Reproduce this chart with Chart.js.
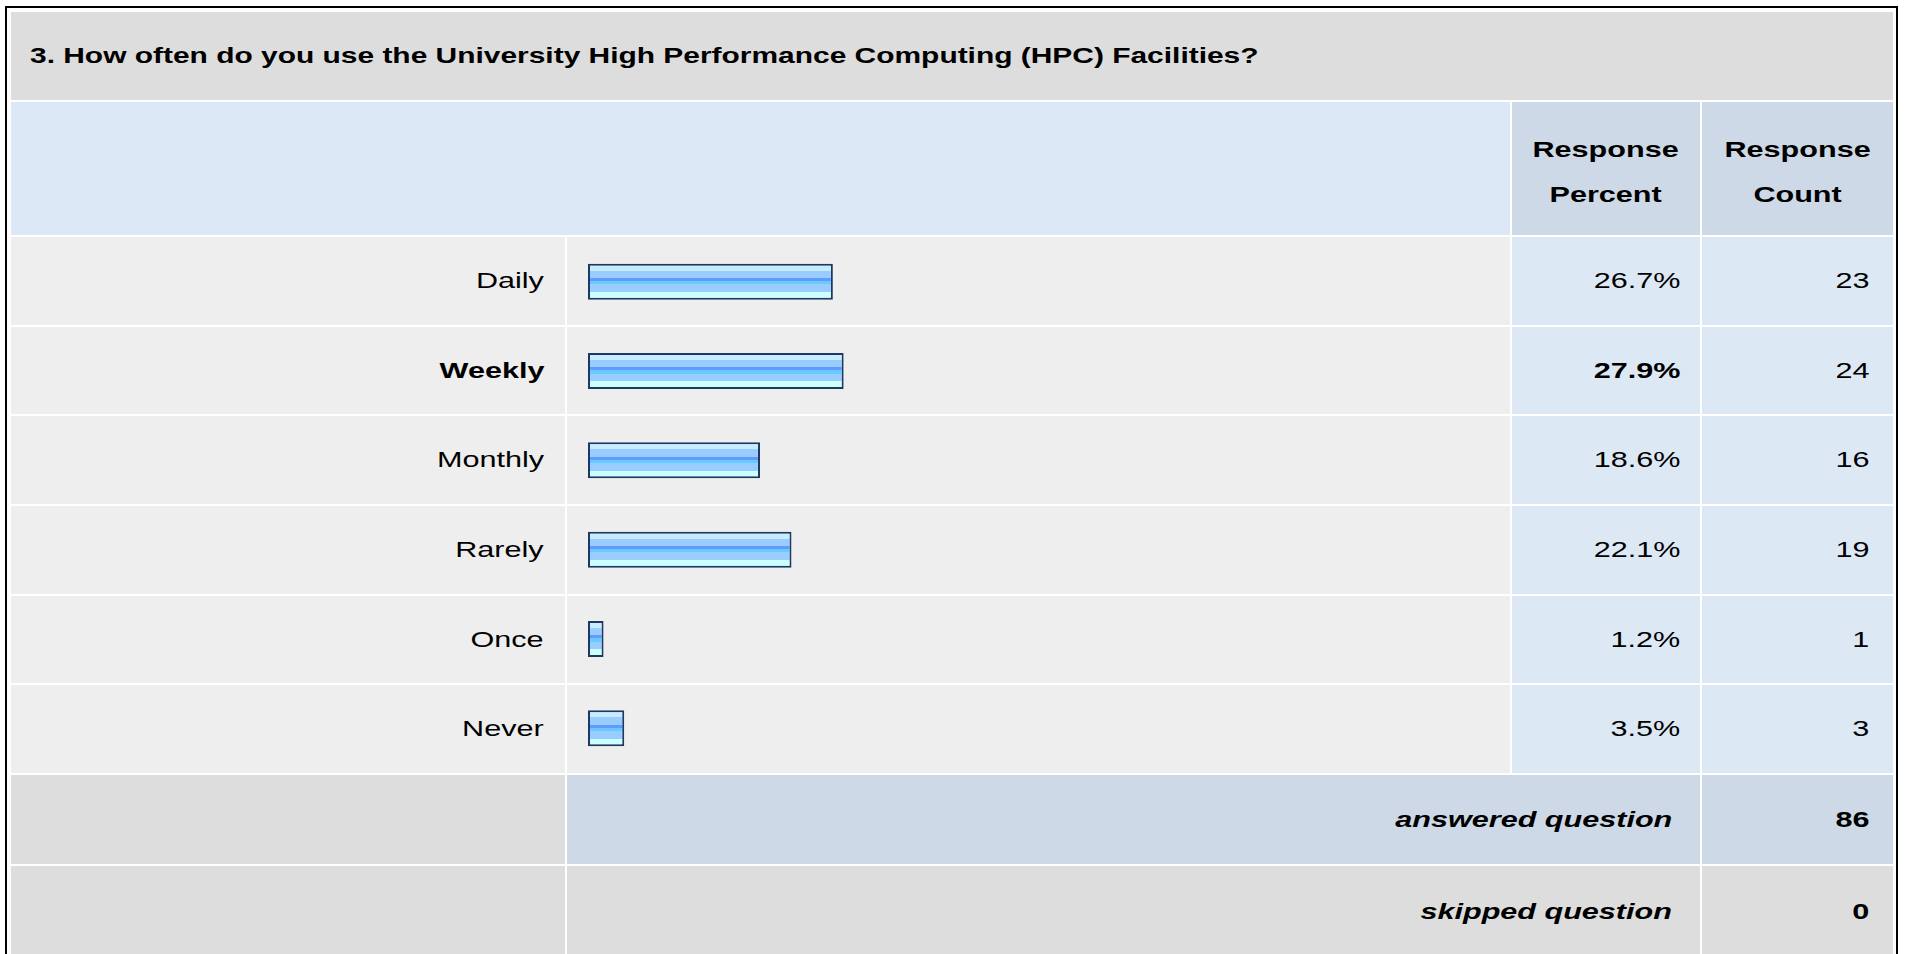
<!DOCTYPE html>
<html>
<head>
<meta charset="utf-8">
<script src="https://cdn.jsdelivr.net/npm/chart.js@4/dist/chart.umd.min.js"></script>
<style>
  html, body { margin: 0; padding: 0; background: #fff; overflow: hidden; }
  body { width: 1907px; height: 954px; position: relative; font-family: "Liberation Sans", Arial, sans-serif; color: #000; }
  #box {
    position: absolute; left: 5px; top: 6px;
    border: 2px solid #000; border-bottom: none;
    padding: 4px 3px 0 4px; background: #fff;
    display: grid;
    grid-template-columns: 554px 943px 188px 191px;
    grid-template-rows: 88px 133px 88px 87px 88px 88px 87px 88px 89px 92px;
    gap: 2px;
  }
  .c { display: flex; align-items: center; font-size: 22px; }
  .r { justify-content: flex-end; }
  .title { grid-column: 1 / 5; background: #dddddd; font-weight: bold; padding-left: 19px; }
  .hblank { grid-column: 1 / 3; background: #dce8f5; }
  .hcol { background: #cdd9e6; font-weight: bold; justify-content: center; text-align: center; line-height: 45px; padding-top: 6px; box-sizing: border-box; }
  .lab { background: #eeeeee; padding-right: 21px; }
  .bar { background: #eeeeee; }
  .pct { background: #dde8f5; padding-right: 20px; }
  .cnt { background: #dde8f5; padding-right: 24px; }
  .gray { background: #dddddd; }
  .sum { background: #cdd9e6; }
  .tot { font-weight: bold; font-style: italic; padding-right: 28px; }
  .totn { font-weight: bold; padding-right: 24px; }
  .b { font-weight: bold; }
  .s { display: inline-block; transform: scaleX(1.39); transform-origin: right center; white-space: nowrap; }
  .title .s { transform: scaleX(1.36); transform-origin: left center; }
  .hcol .s { transform-origin: center center; }
  #chartWrap { position: absolute; left: 567px; top: 237px; width: 943px; height: 536px; }
</style>
</head>
<body>
<div id="box"></div>
<div id="chartWrap"><canvas id="bars" width="943" height="536"></canvas></div>
<script>
const question = '3. How often do you use the University High Performance Computing (HPC) Facilities?';
const categories = ['Daily', 'Weekly', 'Monthly', 'Rarely', 'Once', 'Never'];
const percents = [26.7, 27.9, 18.6, 22.1, 1.2, 3.5];
const counts = [23, 24, 16, 19, 1, 3];
const answeredCount = 86;
const skippedCount = 0;

const box = document.getElementById('box');
function cell(cls, text) {
    let d = document.createElement('div');
    d.className = 'c ' + cls;
    if (text !== undefined) {
        let s = document.createElement('span');
        s.className = 's';
        s.innerHTML = text;
        d.appendChild(s);
    }
    box.appendChild(d);
    return d;
}

cell('title', question);
cell('hblank');
cell('hcol', 'Response<br>Percent');
cell('hcol', 'Response<br>Count');

let maxPct = Math.max(...percents);
for (let i = 0; i < categories.length; i++) {
    let bold = percents[i] === maxPct ? ' b' : '';
    cell('lab r' + bold, categories[i]);
    cell('bar');
    cell('pct r' + bold, percents[i].toFixed(1) + '%');
    cell('cnt r', String(counts[i]));
}

cell('gray');
cell('sum tot r', 'answered question').style.gridColumn = '2 / 4';
cell('sum totn r', String(answeredCount));
cell('gray');
cell('gray tot r', 'skipped question').style.gridColumn = '2 / 4';
cell('gray totn r', String(skippedCount));

// striped fill like the survey bar image
function stripes(ctx) {
    const chart = ctx.chart;
    const y = chart.scales.y;
    if (!y || ctx.dataIndex === undefined) return '#99ccff';
    const c = y.getPixelForValue(ctx.dataIndex);
    if (!isFinite(c)) return '#99ccff';
    const g = chart.ctx.createLinearGradient(0, c - 18, 0, c + 18);
    const stops = [
        [0, '#c8ecff'], [0.19, '#c8ecff'],
        [0.19, '#99ccff'], [0.40, '#99ccff'],
        [0.40, '#6699ff'], [0.48, '#6699ff'],
        [0.48, '#66ccff'], [0.57, '#66ccff'],
        [0.57, '#99ccff'], [0.79, '#99ccff'],
        [0.79, '#ccffff'], [1, '#ccffff']
    ];
    stops.forEach(s => g.addColorStop(s[0], s[1]));
    return g;
}

const barBase = -0.53;
new Chart(document.getElementById('bars'), {
    type: 'bar',
    data: {
        labels: categories,
        datasets: [{
            data: percents,
            base: barBase,
            backgroundColor: stripes,
            borderColor: '#1d3862',
            borderWidth: 2,
            borderSkipped: false,
            inflateAmount: 0,
            barThickness: 36
        }]
    },
    options: {
        indexAxis: 'y',
        responsive: false,
        animation: false,
        layout: { padding: { left: 21, right: 18, top: 0, bottom: 0 } },
        scales: {
            x: { display: false, min: barBase, max: 100 },
            y: { display: false }
        },
        plugins: {
            legend: { display: false },
            tooltip: { enabled: false }
        }
    }
});
</script>
</body>
</html>
